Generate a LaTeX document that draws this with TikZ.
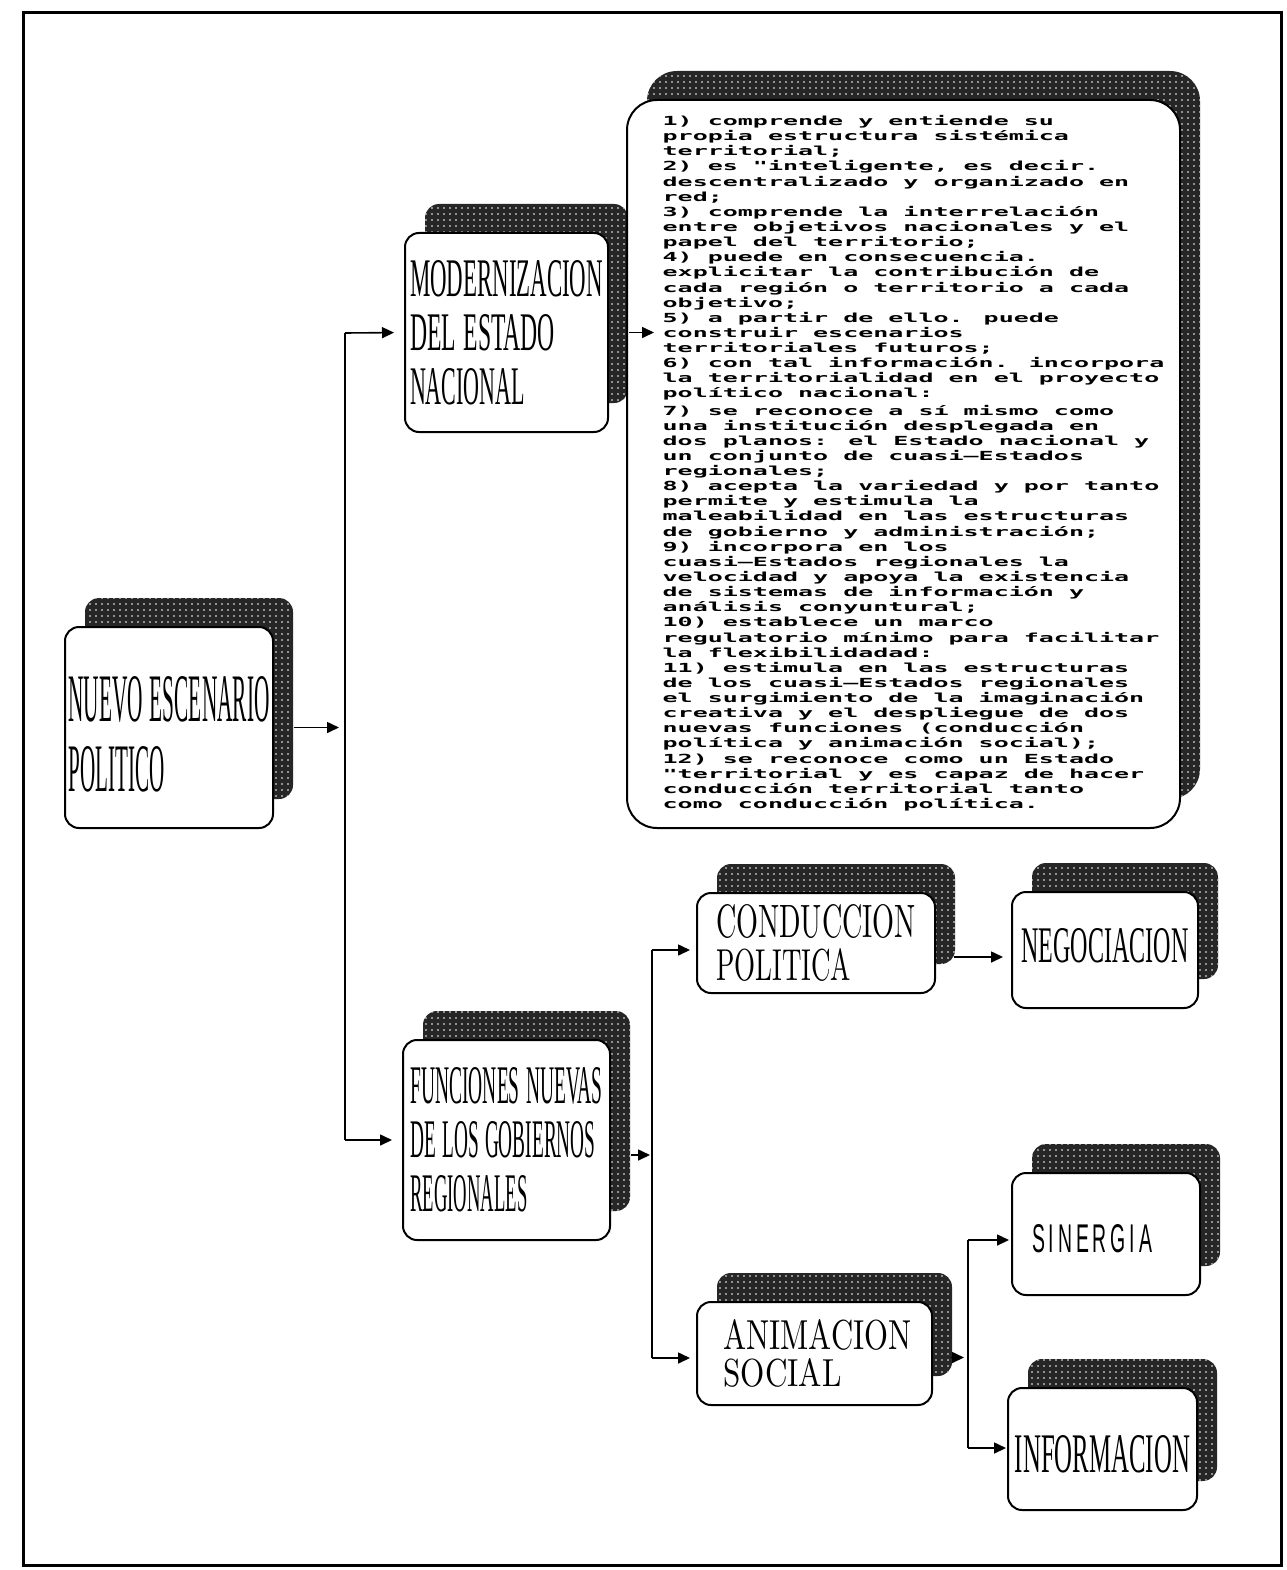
\documentclass[tikz,border=0pt]{standalone}
\usepackage{fontspec}
\usetikzlibrary{arrows.meta,shadows,patterns.meta,calc}
\newfontfamily\serifc{Liberation Serif}
\newfontfamily\sansc[LetterSpace=20]{Liberation Sans}
\newfontfamily\dotfont[FakeStretch=2.0]{DejaVu Sans Mono Bold}
\newcommand\rs[3]{\resizebox{#1pt}{#2pt}{#3}}
\newcommand\wsp{\hspace{0.32em}}
\tikzset{
  card/.style={draw=black, line width=2pt, fill=white, rounded corners=14pt,
    inner sep=0pt, align=left,
    general shadow={shadow xshift=20pt, shadow yshift=29pt, fill=black!85},
    general shadow={shadow xshift=20pt, shadow yshift=29pt,
      pattern={Dots[distance=6pt,radius=0.9pt]}, pattern color=white}},
  conn/.style={line width=1.6pt},
  arr/.style={conn, -{Triangle[length=12pt,width=11pt]}},
}
\begin{document}
\begin{tikzpicture}[x=1pt,y=-1pt]
\useasboundingbox (0,0) rectangle (1286,1570);
\draw[line width=3pt] (23,13) rectangle (1281,1565);

\node[card, minimum width=208pt, minimum height=201pt,
  font=\serifc\fontsize{10}{70}\selectfont] (nuevo) at (169,727.5)
  {\rule{0pt}{59pt}\rs{201}{45}{NUEVO\wsp ESCENARIO}\\\rs{96}{45}{POLITICO}};

\node[card, minimum width=203pt, minimum height=199pt,
  font=\serifc\fontsize{10}{54}\selectfont] (modern) at (506.5,332.5)
  {\rs{193}{36}{MODERNIZACION}\\\rs{145}{36}{DEL\wsp ESTADO}\\\rs{115}{36}{NACIONAL}};

\node[card, minimum width=207pt, minimum height=200pt,
  font=\serifc\fontsize{10}{54}\selectfont] (func) at (506.5,1140)
  {\rs{192}{36}{FUNCIONES\wsp NUEVAS}\\\rs{185}{36}{DE\wsp LOS\wsp GOBIERNOS}\\\rs{117}{36}{REGIONALES}};

\node[card, rounded corners=30pt, minimum width=553pt, minimum height=728pt,
  font=\dotfont\fontsize{12.5}{15.13}\selectfont] (big) at (903.5,464)
  {\hspace*{20pt}\begin{tabular}{@{}l@{}}
1) comprende y entiende su\\
propia estructura sistémica\\
territorial;\\
2) es "inteligente, es decir.\\
descentralizado y organizado en\\
red;\\
3) comprende la interrelación\\
entre objetivos nacionales y el\\
papel del territorio;\\
4) puede en consecuencia.\\
explicitar la contribución de\\
cada región o territorio a cada\\
objetivo;\\
5) a partir de ello. puede\\
construir escenarios\\
territoriales futuros;\\
6) con tal información. incorpora\\
la territorialidad en el proyecto\\
político nacional:\\[2pt]
7) se reconoce a sí mismo como\\
una institución desplegada en\\
dos planos: el Estado nacional y\\
un conjunto de cuasi—Estados\\
regionales;\\
8) acepta la variedad y por tanto\\
permite y estimula la\\
maleabilidad en las estructuras\\
de gobierno y administración;\\
9) incorpora en los\\
cuasi—Estados regionales la\\
velocidad y apoya la existencia\\
de sistemas de información y\\
análisis conyuntural;\\
10) establece un marco\\
regulatorio mínimo para facilitar\\
la flexibilidadad:\\
11) estimula en las estructuras\\
de los cuasi—Estados regionales\\
el surgimiento de la imaginación\\
creativa y el despliegue de dos\\
nuevas funciones (conducción\\
política y animación social);\\
12) se reconoce como un Estado\\
"territorial y es capaz de hacer\\
conducción territorial tanto\\
como conducción política.
\end{tabular}};

\node[card, minimum width=238pt, minimum height=100pt,
  font=\fontsize{10}{43}\selectfont] (cond) at (816,943)
  {\rs{200}{33}{CONDUCCION}\\\rs{135}{32}{POLITICA}};

\node[card, minimum width=186pt, minimum height=116pt,
  font=\serifc\fontsize{10}{40}\selectfont] (neg) at (1105,950)
  {\rs{167}{34}{NEGOCIACION}\rule[-10pt]{0pt}{10pt}};

\node[card, minimum width=235pt, minimum height=103pt,
  font=\fontsize{10}{37}\selectfont] (anim) at (814.5,1353.5)
  {\hspace*{6pt}\rs{188}{30}{ANIMACION}\\\hspace*{6pt}\rs{118}{28}{SOCIAL}};

\node[card, minimum width=188pt, minimum height=122pt,
  font=\sansc\fontsize{10}{40}\selectfont] (sin) at (1106,1234)
  {\rule{0pt}{38pt}\rs{120}{28}{SINERGIA}\hspace*{28pt}};

\node[card, minimum width=189pt, minimum height=122pt,
  font=\serifc\fontsize{10}{40}\selectfont] (info) at (1102.5,1449)
  {\rule{0pt}{47pt}\rs{175}{37}{INFORMACION}};

% connectors
\coordinate (t1a) at (345,333);
\coordinate (t1b) at (345,1140);
\draw[conn] (t1a) -- (t1b);
\draw[arr, shorten >=6pt] ([xshift=20pt]nuevo.east) -- (t1a |- nuevo.east);
\draw[arr, shorten >=10pt] (t1a) -- (modern.west);
\draw[arr, shorten >=10pt] (t1b) -- (func.west);

\draw[arr] ([xshift=20pt]modern.east) -- ([xshift=28pt]big.west |- modern.east);

\coordinate (t2a) at (652,950);
\coordinate (t2b) at (652,1358);
\coordinate (fo) at ([xshift=20pt,yshift=-15pt]func.east);
\draw[conn] (t2a) -- (t2b);
\draw[arr, shorten >=2pt] (fo) -- (fo -| t2a);
\draw[arr, shorten >=6pt] (t2a) -- (t2a -| cond.west);
\draw[arr, shorten >=6pt] (t2b) -- (t2b -| anim.west);

\coordinate (cn) at ([xshift=18pt,yshift=-14pt]cond.east);
\draw[arr, shorten >=8pt] (cn) -- (cn -| neg.west);

\coordinate (t3a) at (968,1240);
\coordinate (t3b) at (968,1448);
\coordinate (an) at ([xshift=18pt,yshift=-4pt]anim.east);
\draw[conn] (t3a) -- (t3b);
\draw[arr, shorten >=4pt] (an) -- (an -| t3a);
\draw[arr, shorten >=2pt] (t3a) -- (t3a -| sin.west);
\draw[arr, shorten >=1pt] (t3b) -- (t3b -| info.west);
\end{tikzpicture}
\end{document}
